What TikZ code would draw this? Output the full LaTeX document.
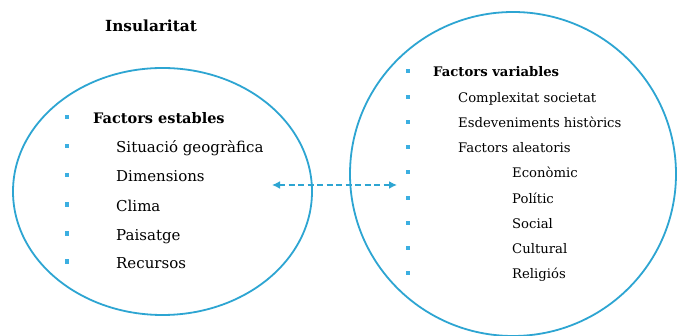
\documentclass[tikz,border=0pt]{standalone}
\usepackage{fontspec}
\setmainfont{DejaVu Serif}
\usetikzlibrary{arrows.meta}
\definecolor{cblue}{RGB}{45,165,210}
\definecolor{bblue}{RGB}{60,175,225}
\tikzset{
  ring/.style={draw=cblue, line width=1.8pt},
  bul/.style={fill=bblue, minimum size=4.5pt, inner sep=0pt},
  ltxt/.style={anchor=base west, inner sep=0pt, font=\fontsize{15}{17}\selectfont},
  rtxt/.style={anchor=base west, inner sep=0pt, font=\fontsize{13.2}{15}\selectfont},
  link/.style={draw=cblue, line width=2pt, dash pattern=on 6pt off 3.5pt, {Latex[length=8pt,width=8pt]}-{Latex[length=8pt,width=8pt]}}
}
\begin{document}
\begin{tikzpicture}[x=1pt,y=-1pt]
\useasboundingbox[fill=white] (0,0) rectangle (678,336);
\node[anchor=base, inner sep=0pt, font=\bfseries\fontsize{15.3}{17}\selectfont] (title) at (151,32) {Insularitat};
\draw[ring] (162.5,191.5) ellipse [x radius=149.5, y radius=123.5];
\draw[ring] (513,174) ellipse [x radius=163, y radius=162];
% left list
\foreach \y/\xx/\t/\n in {124/93/{\bfseries\fontsize{14.5}{17}\selectfont Factors estables}/l1,153/116/Situació geogràfica/l2,182/116/Dimensions/l3,211.5/116/Clima/l4,240.5/116/Paisatge/l5,268.5/116/Recursos/l6}{
  \node[bul] (b\n) at (67,\y-7) {};
  \node[ltxt] (\n) at (\xx,\y) {\t};
}
% right list
\foreach \y/\xx/\t/\n in {77/433/{\bfseries Factors variables}/r1,103/458/Complexitat societat/r2,128/458/Esdeveniments històrics/r3,153/458/Factors aleatoris/r4,178/512/Econòmic/r5,204/512/Polític/r6,229/512/Social/r7,254/512/Cultural/r8,279/512/Religiós/r9}{
  \node[bul] (b\n) at (408,\y-6) {};
  \node[rtxt] (\n) at (\xx,\y) {\t};
}
\coordinate (aL) at (272,185);
\coordinate (aR) at (397,185);
\draw[link] (aL) -- (aR);
\end{tikzpicture}
\end{document}
